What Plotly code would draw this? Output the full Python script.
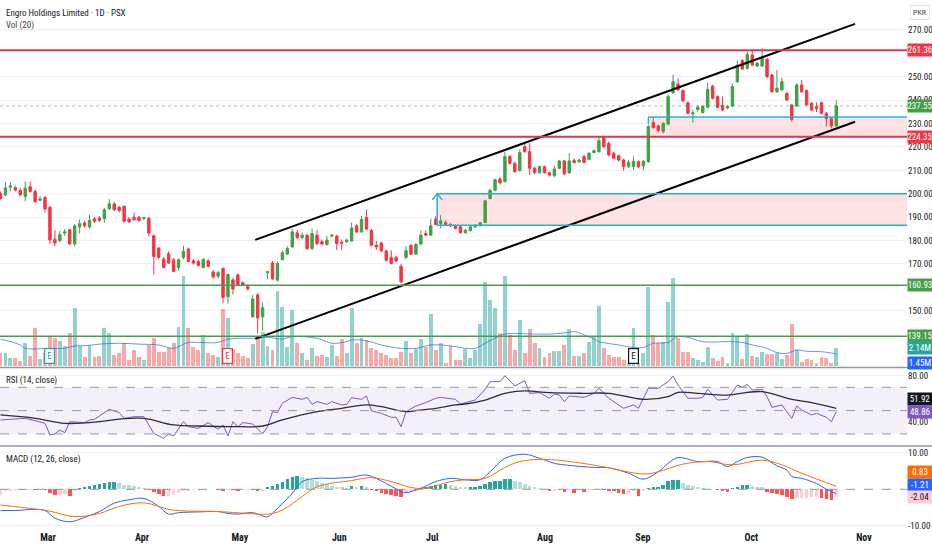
import plotly.graph_objects as go

# ---------------- data ----------------
bar_index = list(range(170))

opens = [200.0, 199.5, 202.8, 202.6, 201.4, 198.9, 203.0, 201.0, 197.2, 198.4,
         194.2, 180.6, 180.0, 183.2, 184.6, 178.6, 185.8, 187.5, 185.8, 189.3,
         189.6, 189.3, 193.6, 195.6, 194.2, 194.6, 189.2, 190.0, 190.0, 189.4,
         189.5, 182.1, 176.8, 172.1, 174.4, 171.8, 168.5, 172.8, 176.4, 171.4,
         171.1, 168.5, 171.3, 166.6, 164.8, 168.1, 156.0, 163.2, 165.3, 162.0,
         160.3, 147.4, 156.8, 147.4, 166.3, 170.4, 163.1, 171.9, 174.2, 177.3,
         183.3, 181.3, 182.3, 176.6, 182.3, 179.5, 178.3, 181.9, 181.9, 179.3,
         179.5, 179.8, 186.3, 183.7, 189.9, 184.4, 178.0, 179.0, 175.5, 172.8,
         172.8, 169.0, 172.8, 177.9, 174.2, 178.5, 183.0, 182.3, 189.1, 187.3,
         187.6, 186.9, 186.2, 185.9, 183.3, 184.2, 185.8, 186.3, 187.7, 198.0,
         201.5, 206.3, 205.2, 215.9, 213.0, 209.9, 220.1, 218.0, 210.9, 209.0,
         211.6, 209.0, 207.7, 210.9, 214.0, 209.0, 214.2, 213.7, 215.9, 214.7,
         217.6, 218.0, 224.1, 221.6, 217.3, 216.2, 214.4, 211.6, 211.6, 213.7,
         211.9, 213.7, 230.4, 229.0, 226.6, 229.8, 243.2, 246.9, 244.1, 238.9,
         234.1, 236.0, 234.7, 237.0, 246.0, 241.5, 237.8, 236.7, 237.5, 247.9,
         256.9, 253.6, 259.3, 254.6, 254.6, 257.5, 250.8, 243.6, 244.4, 242.9,
         237.9, 237.5, 246.5, 244.1, 238.7, 237.2, 238.9, 234.4, 232.1, 229.0]
highs = [201.0, 205.0, 205.0, 203.5, 202.6, 205.3, 205.3, 202.0, 199.0, 199.0,
         195.0, 184.5, 184.0, 185.0, 185.0, 187.0, 189.0, 188.5, 191.0, 190.0,
         190.5, 194.0, 197.7, 196.5, 195.0, 195.0, 190.0, 192.0, 190.5, 190.2,
         190.0, 182.5, 177.2, 173.0, 175.4, 172.5, 172.3, 177.8, 177.0, 172.0,
         171.8, 172.5, 172.0, 167.5, 167.0, 168.5, 166.0, 164.0, 166.0, 162.5,
         161.3, 156.7, 157.5, 153.4, 166.8, 171.2, 171.0, 175.8, 177.5, 185.0,
         184.5, 183.5, 183.0, 185.2, 184.4, 180.5, 182.0, 182.8, 182.5, 180.5,
         180.8, 187.7, 187.0, 190.5, 193.3, 185.0, 179.8, 179.5, 176.2, 175.9,
         173.5, 170.0, 177.6, 178.5, 179.0, 184.4, 184.4, 189.4, 190.4, 190.9,
         188.5, 187.5, 186.8, 186.5, 185.0, 186.3, 187.0, 188.0, 197.5, 202.0,
         206.5, 207.0, 218.0, 216.5, 213.8, 219.0, 221.6, 221.6, 211.5, 212.0,
         212.0, 209.5, 212.0, 214.5, 214.5, 217.3, 215.2, 215.0, 216.5, 217.8,
         219.0, 224.4, 224.8, 222.3, 218.0, 216.8, 215.0, 214.5, 216.0, 214.2,
         214.5, 229.5, 232.5, 229.5, 230.5, 242.5, 250.8, 249.3, 244.6, 239.4,
         235.8, 237.8, 237.8, 247.5, 246.6, 242.0, 241.5, 237.8, 247.2, 256.9,
         257.5, 261.5, 261.5, 256.3, 262.2, 258.0, 251.3, 252.9, 249.6, 243.4,
         238.4, 247.2, 248.6, 244.6, 239.2, 239.0, 239.4, 234.9, 232.6, 240.0]
lows = [197.5, 199.0, 201.0, 201.0, 199.0, 196.8, 200.5, 196.0, 196.8, 192.0,
        178.6, 177.5, 179.5, 182.0, 178.0, 177.5, 183.0, 185.5, 185.0, 187.5,
        188.0, 187.5, 193.0, 192.5, 192.0, 187.8, 187.5, 188.5, 188.0, 188.8,
        181.8, 165.4, 172.0, 168.0, 170.0, 166.5, 167.2, 172.0, 170.8, 169.8,
        168.8, 168.0, 168.5, 163.5, 163.8, 153.1, 153.0, 157.0, 160.5, 160.5,
        158.5, 147.0, 140.3, 141.4, 163.4, 163.2, 162.5, 171.5, 173.8, 177.0,
        180.5, 180.5, 175.9, 176.0, 178.0, 178.0, 177.8, 181.3, 175.9, 176.0,
        179.0, 179.5, 183.2, 183.3, 184.3, 177.5, 176.0, 175.0, 171.0, 169.8,
        170.8, 161.8, 172.0, 173.8, 173.8, 178.0, 181.8, 182.0, 186.5, 185.2,
        186.5, 185.8, 184.8, 183.0, 183.0, 184.0, 185.5, 186.0, 187.5, 197.5,
        201.0, 204.0, 204.8, 212.5, 209.0, 209.5, 217.5, 208.0, 208.5, 208.5,
        208.5, 207.3, 207.2, 210.5, 208.0, 208.5, 213.0, 213.2, 213.0, 214.3,
        217.2, 217.5, 219.5, 216.0, 214.8, 213.8, 209.8, 211.0, 210.2, 211.0,
        210.0, 213.2, 227.8, 226.3, 225.8, 229.3, 242.5, 244.0, 239.2, 234.0,
        230.4, 235.0, 234.2, 236.5, 240.3, 236.5, 235.3, 236.2, 237.0, 247.4,
        252.8, 253.1, 254.5, 254.2, 254.1, 249.3, 243.1, 243.1, 243.9, 239.6,
        230.8, 237.0, 243.1, 237.5, 235.3, 234.9, 233.9, 228.7, 228.0, 228.5]
closes = [198.0, 202.5, 203.3, 201.6, 199.6, 202.4, 201.0, 196.7, 197.8, 193.5,
          180.3, 179.0, 182.5, 183.7, 178.6, 186.3, 187.2, 186.3, 188.6, 188.3,
          188.6, 193.2, 195.7, 193.2, 192.9, 188.2, 188.0, 188.9, 188.6, 189.8,
          183.2, 173.2, 172.8, 168.5, 170.4, 166.8, 171.8, 175.4, 171.1, 170.4,
          169.4, 171.9, 169.0, 164.5, 166.3, 155.7, 165.5, 159.3, 161.0, 161.0,
          159.4, 155.0, 147.0, 151.3, 166.7, 163.6, 170.2, 174.8, 176.6, 183.7,
          181.3, 182.3, 176.6, 183.0, 178.7, 178.5, 180.2, 182.3, 178.7, 178.9,
          180.2, 185.4, 183.7, 189.0, 184.9, 178.0, 177.3, 175.6, 171.6, 170.2,
          171.3, 162.4, 175.6, 174.2, 178.3, 182.3, 182.3, 186.3, 186.9, 188.4,
          187.0, 186.3, 185.2, 183.3, 184.4, 185.9, 186.5, 187.6, 197.0, 201.5,
          206.0, 204.7, 215.9, 213.0, 209.5, 217.6, 218.0, 210.9, 209.0, 211.6,
          209.0, 208.0, 210.6, 214.0, 208.5, 214.0, 213.3, 214.4, 213.4, 217.3,
          218.4, 222.7, 220.1, 216.6, 215.2, 214.4, 211.6, 213.4, 213.9, 211.6,
          213.9, 228.7, 228.3, 227.0, 230.1, 241.5, 247.9, 244.4, 239.7, 234.4,
          234.6, 237.0, 237.3, 244.6, 240.8, 237.0, 235.8, 237.3, 245.8, 255.0,
          253.3, 259.6, 255.0, 255.8, 257.9, 250.1, 243.6, 245.1, 247.9, 240.1,
          231.8, 246.5, 243.6, 238.0, 235.8, 236.4, 234.4, 232.1, 229.0, 237.55]

# volume in millions
volumes = [1.55, 1.55, 0.95, 0.95, 0.60, 2.74, 1.19, 4.52, 0.83, 1.55,
           3.57, 3.33, 2.98, 2.38, 3.93, 6.90, 2.38, 1.07, 2.50, 1.07,
           1.19, 4.52, 3.93, 1.31, 1.55, 2.74, 0.71, 1.90, 1.07, 0.71,
           2.50, 3.33, 1.67, 1.67, 2.14, 2.74, 4.64, 10.70, 4.52, 2.26,
           1.90, 3.69, 1.55, 1.31, 1.07, 6.78, 5.71, 2.02, 1.55, 1.19,
           0.95, 2.62, 3.45, 4.05, 2.38, 1.90, 8.93, 7.02, 2.26, 6.66,
           2.74, 1.55, 0.71, 2.14, 1.19, 1.31, 1.07, 2.50, 1.19, 3.21,
           1.55, 6.90, 2.74, 3.33, 3.09, 2.14, 1.90, 1.55, 1.31, 0.95,
           0.95, 1.67, 2.98, 1.55, 2.02, 3.21, 2.26, 6.19, 1.90, 2.74,
           0.36, 2.38, 0.71, 0.71, 2.02, 0.95, 1.90, 5.00, 10.00, 7.85,
           6.90, 3.93, 10.70, 3.69, 1.90, 5.47, 1.55, 4.40, 2.74, 2.14,
           1.07, 1.55, 1.79, 1.79, 2.50, 4.40, 1.19, 1.19, 1.55, 2.86,
           3.57, 7.14, 2.14, 1.31, 1.07, 1.07, 0.71, 0.36, 4.52, 0.36,
           1.55, 9.40, 3.69, 2.74, 2.86, 7.62, 10.47, 3.33, 1.67, 1.67,
           0.95, 0.71, 0.48, 2.26, 0.95, 0.60, 1.07, 0.36, 3.93, 3.57,
           0.83, 3.81, 1.19, 1.07, 1.67, 1.43, 1.43, 1.55, 0.83, 1.31,
           5.00, 1.90, 0.48, 0.83, 0.71, 0.36, 1.07, 0.95, 0.36, 2.14]

vol_ma_idx = [0, 2, 4, 5, 10, 13, 15, 17, 20, 24, 28, 32, 35, 37, 38, 40, 44, 46, 48, 51,
              54, 57, 59, 64, 67, 70, 71, 74, 77, 81, 84, 87, 91, 94, 96, 98, 100, 102, 108, 111,
              115, 116, 118, 120, 121, 125, 128, 130, 132, 135, 137, 139, 142, 148, 150, 152, 155, 157, 159, 161,
              163, 166, 169]
vol_ma_val = [3.2, 2.9, 2.5, 2.1, 2.1, 2.1, 2.4, 2.4, 2.6, 2.7, 2.6, 2.5, 2.1, 2.6, 2.8, 2.8, 2.8, 3.2, 3.3, 3.3,
              3.4, 3.2, 3.5, 3.3, 2.7, 2.9, 3.1, 3.0, 2.5, 2.1, 2.1, 2.5, 2.4, 2.1, 2.1, 2.7, 3.3, 3.8, 3.8, 3.8,
              4.0, 4.1, 3.7, 3.2, 2.9, 2.5, 2.2, 2.2, 2.7, 2.8, 3.5, 3.4, 2.9, 2.9, 2.8, 2.5, 2.1, 1.6, 1.5, 1.9,
              1.75, 1.7, 1.45]

rsi_idx = [0, 3, 5, 7, 9, 10, 11, 12, 13, 14, 17, 18, 19, 22, 24, 25, 27, 29, 31, 33,
           34, 35, 37, 38, 40, 42, 44, 45, 46, 47, 48, 49, 51, 53, 54, 55, 56, 57, 59, 61,
           62, 63, 64, 66, 67, 69, 70, 71, 73, 74, 75, 77, 79, 80, 81, 82, 84, 86, 88, 89,
           92, 93, 94, 96, 98, 99, 101, 102, 104, 106, 107, 109, 111, 112, 113, 114, 115, 117, 118, 120,
           121, 123, 126, 128, 129, 131, 133, 135, 136, 137, 139, 141, 142, 143, 145, 147, 149, 150, 151, 152,
           154, 155, 156, 158, 160, 161, 162, 164, 165, 167, 168, 169]
rsi_val = [42.0, 42.5, 43.4, 41.4, 39.1, 29.1, 30.0, 33.4, 31.1, 40.5, 39.7, 42.0, 42.5, 51.1, 48.3, 43.4, 44.8, 44.8, 30.5, 26.2,
           30.0, 28.2, 40.5, 36.2, 34.8, 39.7, 34.0, 37.7, 28.2, 40.5, 36.2, 39.7, 38.5, 30.0, 36.2, 49.1, 48.3, 56.3, 61.4, 59.7,
           61.4, 55.4, 57.7, 55.4, 57.7, 54.9, 55.4, 61.1, 59.7, 62.6, 50.0, 47.7, 44.3, 44.3, 36.2, 49.1, 54.0, 56.9, 60.6, 61.4,
           59.7, 55.7, 56.9, 59.1, 68.3, 74.9, 74.9, 80.0, 71.2, 75.7, 64.9, 65.4, 60.6, 64.3, 63.4, 57.7, 62.6, 62.0, 61.4, 64.9,
           69.2, 60.6, 52.0, 54.9, 52.0, 69.2, 69.2, 74.9, 79.7, 72.0, 60.6, 60.6, 61.4, 68.3, 59.1, 59.7, 72.0, 70.0, 72.6, 67.7,
           68.3, 62.0, 52.8, 54.9, 43.4, 54.0, 50.6, 46.3, 47.7, 44.3, 40.5, 48.86]
rsi_ma_idx = [0, 7, 13, 20, 24, 29, 35, 40, 47, 53, 57, 64, 69, 74, 77, 82, 84, 88, 92, 94,
              98, 102, 106, 111, 118, 123, 130, 135, 137, 141, 147, 151, 154, 160, 164, 169]
rsi_ma_val = [46.3, 43.4, 39.1, 40.5, 42.8, 43.4, 37.7, 36.8, 36.3, 36.8, 42.0, 49.1, 52.0, 54.9, 53.4, 49.1, 50.0, 52.0, 54.9, 55.7,
              59.1, 64.9, 66.9, 65.4, 64.9, 64.9, 59.7, 62.0, 65.7, 64.9, 63.4, 65.7, 66.3, 59.7, 56.9, 51.92]

macd_idx = [0, 3, 7, 9, 11, 14, 17, 20, 23, 26, 29, 32, 34, 36, 40, 44, 46, 48, 51, 54,
            56, 59, 61, 64, 67, 71, 74, 78, 81, 82, 85, 88, 91, 94, 97, 99, 102, 106, 109, 112,
            114, 120, 123, 127, 130, 133, 135, 137, 141, 145, 147, 149, 151, 154, 157, 159, 160, 162, 165, 167,
            169]
macd_val = [-5.8, -5.8, -5.5, -5.8, -7.9, -8.9, -7.7, -6.1, -3.8, -2.9, -2.5, -4.7, -6.8, -6.4, -6.2, -6.1, -6.6, -6.8, -6.4, -7.5,
            -5.2, -1.1, 2.1, 3.0, 3.0, 3.3, 3.9, 1.6, -0.6, -0.9, 0.3, 2.1, 3.0, 2.6, 2.6, 4.8, 8.5, 9.6, 8.5, 7.1,
            6.7, 6.0, 5.9, 4.4, 2.8, 4.8, 7.1, 8.7, 7.6, 7.6, 6.2, 7.6, 8.7, 8.8, 6.4, 5.3, 3.5, 3.0, 1.6, 0.0,
            -1.21]
signal_idx = [0, 7, 10, 15, 20, 24, 29, 34, 37, 44, 50, 54, 57, 61, 64, 71, 75, 79, 83, 86,
              91, 94, 98, 102, 105, 109, 114, 121, 130, 133, 138, 143, 148, 154, 158, 162, 169]
signal_val = [-4.3, -5.4, -6.0, -7.5, -6.6, -4.7, -3.7, -5.5, -5.9, -6.1, -6.6, -6.8, -5.7, -2.0, 0.7, 2.4, 3.2, 2.1, 0.5, 0.3,
              2.1, 2.6, 3.0, 6.0, 7.6, 8.2, 7.8, 6.4, 4.2, 4.8, 6.9, 7.6, 6.7, 8.0, 6.7, 4.4, 0.83]
hist_val = [-1.5, -0.6, -0.5, -0.4, -0.3, -0.2, -0.1, -0.3, -0.2, -0.3,
            -1.1, -1.6, -1.5, -1.4, -1.7, -0.4, 0.3, 0.6, 0.9, 1.1,
            1.4, 1.6, 2.0, 2.0, 1.6, 1.3, 1.1, 0.9, 0.6, 0.3,
            -0.3, -0.8, -1.4, -1.7, -1.7, -1.5, -0.9, -0.6, -0.4, -0.2,
            -0.1, 0.1, 0.2, 0.1, -0.1, -0.5, -0.1, -0.3, -0.5, -0.2,
            -0.1, -0.3, -0.6, -0.5, 0.5, 1.0, 1.5, 2.1, 2.9, 3.4,
            3.7, 3.5, 3.0, 2.6, 2.2, 1.8, 1.4, 1.0, 0.6, 0.5,
            0.4, 1.0, 0.5, 1.0, 0.5, -0.2, -0.5, -0.9, -1.3, -1.6,
            -1.7, -2.1, -0.9, -0.6, -0.4, 0.3, 0.6, 1.0, 1.1, 1.3,
            1.4, 1.2, 0.9, 0.7, 0.5, 0.5, 0.5, 0.9, 1.5, 1.9,
            2.2, 2.4, 2.7, 2.7, 2.4, 1.9, 1.5, 1.0, 0.7, 0.4,
            0.2, -0.5, -0.4, -0.1, -0.8, -0.2, -0.9, -0.2, -0.8, -0.2,
            -0.1, 0.1, -0.3, -0.4, -0.5, -0.9, -1.3, -1.3, -0.5, -1.8,
            -0.5, 0.3, 0.5, 0.7, 1.3, 2.2, 2.6, 2.6, 1.7, 1.2,
            0.8, 0.5, 0.3, 0.2, 0.1, -0.3, -0.5, -0.7, 0.3, 0.6,
            1.2, 1.2, 0.9, 0.7, 0.5, -0.7, -1.0, -1.2, -1.6, -2.2,
            -2.7, -2.3, -2.3, -2.3, -2.2, -2.0, -2.5, -2.7, -2.9, -2.04]

month_pos = [9.6, 28.6, 48.4, 68.5, 87.3, 110.1, 129.9, 151.8, 174.6]
month_txt = ["Mar", "Apr", "May", "Jun", "Jul", "Aug", "Sep", "Oct", "Nov"]

price_ticks = [150, 170, 180, 190, 200, 210, 220, 230, 240, 250, 270]
levels = [261.36, 224.35, 160.93, 139.15]
level_colors = ["#e0364b", "#e0364b", "#43a047", "#43a047"]
last_price = 237.55

channel_x = [51.5, 172.8]
channel_upper = [180.3, 272.6]
channel_lower = [138.0, 230.8]

zone_a = dict(x0=88.3, low=186.5, high=200.0)
zone_b = dict(x0=131.0, low=224.35, high=232.8)
earnings_idx = [10, 46, 128]
earnings_col = ["#26a69a", "#f23645", "#131722"]

# ---------------- styling ----------------
FONT = "Liberation Sans Narrow, Roboto Condensed, Roboto, Arial, sans-serif"
UP, DOWN = "#43a047", "#f23645"
CYAN = "#23b3d6"
X_RANGE = [-0.1, 183.3]
H_PX = 530.0


def pfrac(px):
    return 1 - px / H_PX


fig = go.Figure()

# volume (base axis y, under the candles)
vol_colors = ["rgba(38,166,154,0.5)" if c >= o else "rgba(239,83,80,0.5)"
              for o, c in zip(opens, closes)]
fig.add_trace(go.Bar(x=bar_index, y=volumes, marker=dict(color=vol_colors, line=dict(width=0)),
                     width=0.78, xaxis="x", yaxis="y", showlegend=False, hoverinfo="skip"))
fig.add_trace(go.Scatter(x=vol_ma_idx, y=vol_ma_val, mode="lines", line=dict(color="rgba(41,98,255,0.7)", width=1),
                         line_shape="spline", xaxis="x", yaxis="y", showlegend=False, hoverinfo="skip"))

# candles
fig.add_trace(go.Candlestick(x=bar_index, open=opens, high=highs, low=lows, close=closes,
                             increasing=dict(line=dict(color=UP, width=1), fillcolor=UP),
                             decreasing=dict(line=dict(color=DOWN, width=1), fillcolor=DOWN),
                             whiskerwidth=0, xaxis="x", yaxis="y2", showlegend=False, hoverinfo="skip"))

# channel
for ys in (channel_upper, channel_lower):
    fig.add_trace(go.Scatter(x=channel_x, y=ys, mode="lines", line=dict(color="#000000", width=2),
                             xaxis="x", yaxis="y2", showlegend=False, hoverinfo="skip"))

# zone A arrow
ax = zone_a["x0"]
fig.add_trace(go.Scatter(x=[ax, ax, None, ax - 1.0, ax, ax + 1.0],
                         y=[zone_a["low"], zone_a["high"], None, zone_a["high"] - 2.6, zone_a["high"], zone_a["high"] - 2.6],
                         mode="lines", line=dict(color=CYAN, width=1.5), xaxis="x", yaxis="y2",
                         showlegend=False, hoverinfo="skip"))

# RSI
fig.add_trace(go.Scatter(x=rsi_idx, y=rsi_val, mode="lines", line=dict(color="#7e57c2", width=1),
                         xaxis="x2", yaxis="y3", showlegend=False, hoverinfo="skip"))
fig.add_trace(go.Scatter(x=rsi_ma_idx, y=rsi_ma_val, mode="lines", line=dict(color="#2a2e39", width=1.3),
                         line_shape="spline", xaxis="x2", yaxis="y3", showlegend=False, hoverinfo="skip"))

# MACD
hist_colors = []
for i, v in enumerate(hist_val):
    prev = hist_val[i - 1] if i > 0 else v
    if v >= 0:
        hist_colors.append("#26a69a" if v >= prev else "#b2dfdb")
    else:
        hist_colors.append("#ff5252" if v < prev else "#ffcdd2")
fig.add_trace(go.Bar(x=bar_index, y=hist_val, marker=dict(color=hist_colors, line=dict(width=0)), width=0.72,
                     xaxis="x3", yaxis="y4", showlegend=False, hoverinfo="skip"))
fig.add_trace(go.Scatter(x=macd_idx, y=macd_val, mode="lines", line=dict(color="#2962ff", width=1),
                         line_shape="spline", xaxis="x3", yaxis="y4", showlegend=False, hoverinfo="skip"))
fig.add_trace(go.Scatter(x=signal_idx, y=signal_val, mode="lines", line=dict(color="#ff6d00", width=1),
                         line_shape="spline", xaxis="x3", yaxis="y4", showlegend=False, hoverinfo="skip"))

shapes = []
# zones
for z in (zone_a, zone_b):
    shapes.append(dict(type="rect", xref="x", yref="y2", x0=z["x0"], x1=X_RANGE[1], y0=z["low"], y1=z["high"],
                       fillcolor="rgba(242,54,69,0.15)", line=dict(width=0), layer="below"))
for yv in (zone_a["low"], zone_a["high"]):
    shapes.append(dict(type="line", xref="x", yref="y2", x0=zone_a["x0"], x1=X_RANGE[1], y0=yv, y1=yv,
                       line=dict(color=CYAN, width=1.5)))
shapes.append(dict(type="line", xref="x", yref="y2", x0=zone_b["x0"], x1=X_RANGE[1], y0=zone_b["high"], y1=zone_b["high"],
                   line=dict(color=CYAN, width=1.5)))
shapes.append(dict(type="line", xref="x", yref="y2", x0=zone_b["x0"], x1=zone_b["x0"], y0=zone_b["high"], y1=zone_b["high"] - 3,
                   line=dict(color=CYAN, width=1.5)))
# levels
for lv, lc in zip(levels, level_colors):
    shapes.append(dict(type="line", xref="paper", yref="y2", x0=0, x1=1, y0=lv, y1=lv,
                       line=dict(color=lc, width=2 if lc != "#43a047" else 1.5)))
shapes.append(dict(type="line", xref="paper", yref="y2", x0=0, x1=1, y0=last_price, y1=last_price,
                   line=dict(color="rgba(67,160,71,0.55)", width=1, dash="dot")))
# RSI band & dashed levels
shapes.append(dict(type="rect", xref="paper", yref="y3", x0=0, x1=1, y0=30, y1=70,
                   fillcolor="rgba(126,87,194,0.09)", line=dict(width=0), layer="below"))
for lv in (70, 50, 30):
    shapes.append(dict(type="line", xref="paper", yref="y3", x0=0, x1=1, y0=lv, y1=lv,
                       line=dict(color="#9598a1", width=1, dash="dash")))
shapes.append(dict(type="line", xref="paper", yref="y4", x0=0, x1=1, y0=0, y1=0,
                   line=dict(color="#9598a1", width=1, dash="dash")))
# pane separators
for px in (367.5, 446.0):
    shapes.append(dict(type="line", xref="paper", yref="paper", x0=0, x1=932 / 907, y0=pfrac(px), y1=pfrac(px),
                       line=dict(color="#9598a1", width=1.5)))

annotations = []


def tag(y, yref, text, bg, fg="#ffffff", yshift=0):
    annotations.append(dict(xref="paper", x=1, xanchor="left", xshift=0, yref=yref, y=y, yanchor="middle",
                            yshift=yshift, text=text, showarrow=False, bgcolor=bg,
                            font=dict(color=fg, size=9, family=FONT),
                            width=24, height=12, borderpad=0, align="center"))


tag(levels[0], "y2", "%.2f" % levels[0], "#f23645")
tag(last_price, "y2", "%.2f" % last_price, "#43a047")
tag(levels[1], "y2", "%.2f" % levels[1], "#f23645")
tag(levels[2], "y2", "%.2f" % levels[2], "#43a047")
tag(levels[3], "y2", "%.2f" % levels[3], "#43a047")
tag(volumes[-1], "y", "%.2fM" % volumes[-1], "#26a69a")
tag(vol_ma_val[-1], "y", "%.2fM" % vol_ma_val[-1], "#2962ff", yshift=-9)
tag(rsi_ma_val[-1], "y3", "%.2f" % rsi_ma_val[-1], "#131722", yshift=9)
tag(rsi_val[-1], "y3", "%.2f" % rsi_val[-1], "#7e57c2")
tag(signal_val[-1], "y4", "%.2f" % signal_val[-1], "#ff6d00", yshift=14)
tag(macd_val[-1], "y4", "%.2f" % macd_val[-1], "#2962ff", yshift=9)
tag(hist_val[-1], "y4", "%.2f" % hist_val[-1], "#ffcdd2", fg="#131722")

annotations.append(dict(xref="paper", x=1, xanchor="left", xshift=3, yref="paper", y=pfrac(13), yanchor="middle",
                        text="PKR", showarrow=False, font=dict(size=8, color="#434651", family=FONT),
                        bordercolor="#e0e3eb", borderwidth=1, borderpad=2, bgcolor="#ffffff"))
titles = [("Engro Holdings Limited · 1D · PSX", 13, "#131722"), ("Vol (20)", 26, "#434651"),
          ("RSI (14, close)", 380, "#131722"), ("MACD (12, 26, close)", 459, "#131722")]
for t, py, col in titles:
    annotations.append(dict(xref="paper", x=0, xanchor="left", xshift=4, yref="paper", y=pfrac(py), yanchor="middle",
                            text=t, showarrow=False, font=dict(size=9, color=col, family=FONT)))
for ei, ec in zip(earnings_idx, earnings_col):
    annotations.append(dict(xref="x", x=ei, yref="paper", y=pfrac(356), yanchor="middle", text="E", showarrow=False,
                            font=dict(size=9, color=ec, family=FONT), bgcolor="#ffffff",
                            bordercolor=ec, borderwidth=1.2, borderpad=2))

axis_font = dict(size=9, color="#131722", family=FONT)
fig.update_layout(
    width=932, height=550,
    margin=dict(l=0, r=25, t=0, b=20),
    paper_bgcolor="#ffffff", plot_bgcolor="#ffffff",
    font=dict(family=FONT, color="#131722"),
    showlegend=False, bargap=0,
    xaxis=dict(domain=[0, 1], range=X_RANGE, anchor="y", showticklabels=False, showgrid=False, zeroline=False,
               rangeslider=dict(visible=False), fixedrange=True),
    xaxis2=dict(domain=[0, 1], range=X_RANGE, anchor="y3", matches="x", showticklabels=False, showgrid=False,
                zeroline=False),
    xaxis3=dict(domain=[0, 1], range=X_RANGE, anchor="y4", matches="x", showgrid=False, zeroline=False,
                tickmode="array", tickvals=month_pos, ticktext=month_txt, ticks="",
                tickfont=dict(size=10, color="#131722", family=FONT, weight="bold")),
    yaxis=dict(domain=[pfrac(366), 1], range=[0, 366 / 8.41], visible=False, fixedrange=True),
    yaxis2=dict(overlaying="y", side="right", anchor="x", range=[126.4, 282.8], tickmode="array",
                tickvals=price_ticks, ticktext=["%.2f" % v for v in price_ticks], showgrid=True,
                gridcolor="#eef0f4", gridwidth=1, zeroline=False, ticks="", tickfont=axis_font),
    yaxis3=dict(domain=[pfrac(445), pfrac(369)], anchor="x2", side="right", range=[20.5, 85.75],
                tickmode="array", tickvals=[40, 80], ticktext=["40.00", "80.00"], showgrid=True,
                gridcolor="#eef0f4", zeroline=False, ticks="", tickfont=axis_font),
    yaxis4=dict(domain=[0, pfrac(447)], anchor="x3", side="right", range=[-11.15, 11.59],
                tickmode="array", tickvals=[-10, 10], ticktext=["-10.00", "10.00"], showgrid=True,
                gridcolor="#eef0f4", zeroline=False, ticks="", tickfont=axis_font),
    shapes=shapes, annotations=annotations,
)

fig.write_html("out.html", config={"displayModeBar": False, "staticPlot": True},
               post_script="document.body.style.margin='0';document.body.style.overflow='hidden';")
